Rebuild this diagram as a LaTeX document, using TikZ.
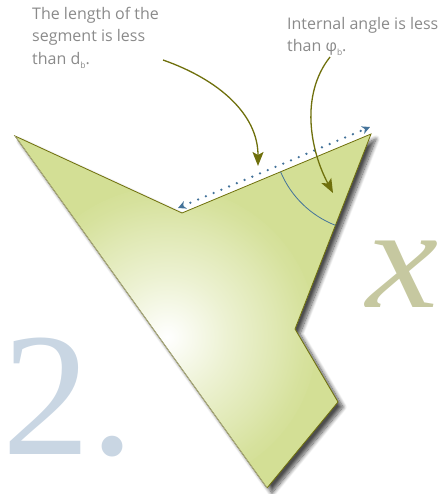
\documentclass[tikz,border=0pt]{standalone}
\usepackage{fontspec}
\setmainfont{Open Sans}
\newfontfamily\numfont{Liberation Serif}
\usetikzlibrary{arrows.meta,shadows.blur}
\definecolor{leaf}{HTML}{D3DF95}
\definecolor{olivec}{HTML}{6F700C}
\definecolor{dotblue}{HTML}{44739A}
\definecolor{txtgray}{HTML}{8A8A8A}
\definecolor{numblue}{HTML}{C9D6E3}
\definecolor{xolive}{HTML}{C6C8A0}
% 25bp corresponds to the circle radius (150)
\pgfdeclareradialshading{glow}{\pgfpoint{0bp}{0bp}}{color(0bp)=(white); color(2bp)=(white!92!leaf); color(10bp)=(leaf!42!white); color(18bp)=(leaf!72!white); color(23bp)=(leaf!92!white); color(26bp)=(leaf); color(50bp)=(leaf)}
\newcommand\lowsub[1]{\raisebox{-4pt}{\fontsize{8.5}{9}\selectfont #1}}
\tikzset{
  lbl/.style={font=\fontsize{16}{22}\selectfont, text=txtgray, inner sep=0pt, anchor=base west},
  olivearrow/.style={draw=olivec, line width=1.3pt, -{Stealth[length=14pt,width=11pt,inset=3pt]}},
  dotline/.style={draw=dotblue, line width=2.6pt, line cap=round, dash pattern=on 0pt off 8.4pt,
     {Stealth[length=8pt,width=8pt,inset=2.5pt]}-{Stealth[length=8pt,width=8pt,inset=2.5pt]}},
  anglearc/.style={draw=dotblue, line width=0.8pt},
}
\begin{document}
\begin{tikzpicture}[x=1pt,y=-1pt]
\useasboundingbox (0,0) rectangle (441,494);
\clip (0,0) rectangle (441,494);
% vertices
\coordinate (v1) at (15,136);
\coordinate (v2) at (182,213);
\coordinate (v3) at (371,134);
\coordinate (v4) at (295,329);
\coordinate (v5) at (338,402);
\coordinate (v6) at (267,488);
% background glyphs
\node[font=\numfont\fontsize{176}{176}\selectfont, text=numblue, anchor=base west, inner sep=0pt] (two) at (2,454) {2.};
\node[font=\numfont\itshape\fontsize{145}{145}\selectfont, text=xolive, anchor=base west, inner sep=0pt] (ex) at (366,307) {\scalebox{1.12}[1]{x}};
% polygon
\path[fill=leaf, blur shadow={shadow xshift=5pt, shadow yshift=-5pt, shadow blur radius=4pt, shadow blur steps=12, shadow opacity=70}]
  (v1) -- (v2) -- (v3) -- (v4) -- (v5) -- (v6) -- cycle;
\begin{scope}
  \clip (v1) -- (v2) -- (v3) -- (v4) -- (v5) -- (v6) -- cycle;
  \shade[shading=glow] (167,337) circle (150);
\end{scope}
\draw[olivec, line width=0.8pt, line join=miter] (v6) -- (v1) -- (v2) -- (v3) -- (v4) -- (v5) -- (v6);
\draw[olivec!35!gray!60, line width=0.6pt] (v6) -- (v1);
% angle arc
\draw[anglearc] (v3) ++(157.3:98) arc[start angle=157.3, end angle=111.3, radius=98];
% dotted measure
\coordinate (d1) at (178,208);
\coordinate (d2) at (370,127);
\draw[dotline] (d1) -- (d2);
% texts
\node[lbl] (t1a) at (32,20) {The length of the};
\node[lbl] (t1b) at (32,42) {segment is less};
\node[lbl] (t1c) at (32,65) {than d\lowsub{b}.};
\node[lbl] (t2a) at (287,30) {Internal angle is less};
\node[lbl] (t2b) at (287,52) {than φ\lowsub{b}.};
% arrows
\coordinate (a1s) at (163,60);
\coordinate (a1e) at (258,166);
\draw[olivearrow] (a1s) .. controls (220,80) and (258,115) .. (a1e);
\coordinate (a2s) at (330,57);
\coordinate (a2e) at (333,193);
\draw[olivearrow] (a2s) .. controls (300,95) and (310,150) .. (a2e);
\end{tikzpicture}
\end{document}
